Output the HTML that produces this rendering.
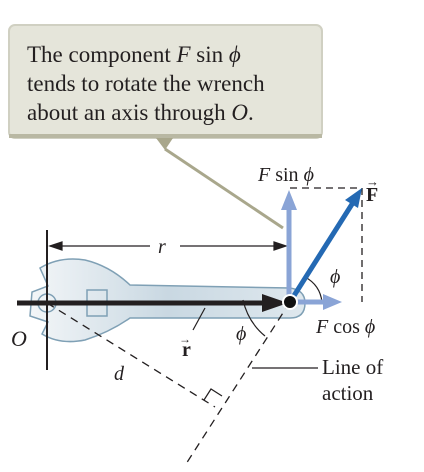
<!DOCTYPE html>
<html><head><meta charset="utf-8"><style>
html,body{margin:0;padding:0;background:#fff;width:424px;height:472px;overflow:hidden}
svg text{font-family:"Liberation Serif",serif;fill:#231f20}
</style></head><body>
<svg width="424" height="472" viewBox="0 0 424 472">
<defs>
<linearGradient id="wg" x1="0" y1="0" x2="1" y2="0"><stop offset="0" stop-color="#f3f6f8"/><stop offset="0.5" stop-color="#c9d8e2"/><stop offset="1" stop-color="#dfe8ee"/></linearGradient>
</defs>
<g>
<rect x="9" y="25" width="313" height="113" rx="6" fill="#e5e5da" stroke="#d0d0c2" stroke-width="2"/>
<rect x="9" y="134" width="313" height="4" fill="#b9b8a3"/>
<path d="M156 138 L173 138 L165 150 Z" fill="#a9a78c"/>
<line x1="165" y1="149" x2="283" y2="228" stroke="#a9a78c" stroke-width="3"/>
<text x="27" y="62" font-size="23">The component <tspan font-style="italic">F</tspan> sin <tspan font-style="italic">ϕ</tspan></text>
<text x="27" y="91" font-size="23">tends to rotate the wrench</text>
<text x="27" y="120" font-size="23">about an axis through <tspan font-style="italic">O</tspan>.</text>
</g>
<path d="M40 268 Q60 256 85 260 Q110 266 130 285 L290 288 Q305 290 305 303 Q305 318 290 318 L130 318 Q110 332 85 340 Q60 345 42 334 L48 322 L30 316 L32 292 L48 286 Z" fill="url(#wg)" stroke="#7fa0b5" stroke-width="1.5"/>
<circle cx="47" cy="303" r="9" fill="none" stroke="#7fa0b5" stroke-width="1.5"/>
<rect x="87" y="290" width="20" height="26" fill="none" stroke="#7fa0b5" stroke-width="1.5"/>
<line x1="47" y1="230" x2="47" y2="370" stroke="#231f20" stroke-width="2"/>
<g stroke="#231f20" stroke-width="1.2">
<line x1="50" y1="246" x2="150" y2="246"/><line x1="180" y1="246" x2="284" y2="246"/>
<path d="M50 246 L62 242 L62 250 Z M286 246 L274 242 L274 250 Z" fill="#231f20"/>
</g>
<text x="158" y="253" font-size="20" font-style="italic">r</text>
<line x1="47" y1="303" x2="215" y2="407" stroke="#231f20" stroke-width="1.3" stroke-dasharray="8,6"/>
<line x1="290" y1="302" x2="186" y2="464" stroke="#231f20" stroke-width="1.3" stroke-dasharray="8,6"/>
<path d="M204 400 L211 389 L222 396" fill="none" stroke="#231f20" stroke-width="1.2"/>
<line x1="252" y1="368" x2="318" y2="368" stroke="#231f20" stroke-width="1.2"/>
<path d="M243 300 Q248 322 265 336" fill="none" stroke="#231f20" stroke-width="1.2"/>
<path d="M322 302 Q320 285 305 277" fill="none" stroke="#231f20" stroke-width="1.2"/>
<g>
<line x1="289" y1="302" x2="289" y2="205" stroke="#8aa4d6" stroke-width="5"/>
<path d="M289 190 L281 210 L297 210 Z" fill="#8aa4d6"/>
</g>
<g>
<line x1="290" y1="302" x2="326" y2="302" stroke="#8aa4d6" stroke-width="5"/>
<path d="M342 302 L323 294 L323 310 Z" fill="#8aa4d6"/>
</g>
<line x1="290" y1="188" x2="362" y2="188" stroke="#231f20" stroke-width="1.3" stroke-dasharray="7,5"/>
<line x1="362" y1="188" x2="362" y2="302" stroke="#231f20" stroke-width="1.3" stroke-dasharray="7,5"/>
<g>
<line x1="290" y1="302" x2="354" y2="201" stroke="#2469b3" stroke-width="5"/>
<path d="M362 188 L345 200 L358 208 Z" fill="#2469b3"/>
</g>
<g>
<line x1="17" y1="303" x2="270" y2="303" stroke="#231f20" stroke-width="5"/>
<path d="M288 303 L262 294 L262 312 Z" fill="#231f20"/>
<line x1="205" y1="308" x2="193" y2="330" stroke="#231f20" stroke-width="1.2"/>
</g>
<circle cx="290" cy="302" r="7" fill="#111" stroke="#fff" stroke-width="2"/>
<text x="258" y="181" font-size="20"><tspan font-style="italic">F</tspan> sin <tspan font-style="italic">ϕ</tspan></text>
<text x="366" y="201" font-size="20" font-weight="bold">F</text>
<text x="366" y="186" font-size="13">→</text>
<text x="330" y="283" font-size="20" font-style="italic">ϕ</text>
<text x="316" y="333" font-size="20"><tspan font-style="italic">F</tspan> cos <tspan font-style="italic">ϕ</tspan></text>
<text x="236" y="340" font-size="20" font-style="italic">ϕ</text>
<text x="11" y="346" font-size="22" font-style="italic">O</text>
<text x="182" y="356" font-size="20" font-weight="bold">r</text>
<text x="179" y="343" font-size="12">→</text>
<text x="114" y="380" font-size="20" font-style="italic">d</text>
<text x="322" y="374" font-size="21">Line of</text>
<text x="322" y="400" font-size="21">action</text>
</svg>
</body></html>
